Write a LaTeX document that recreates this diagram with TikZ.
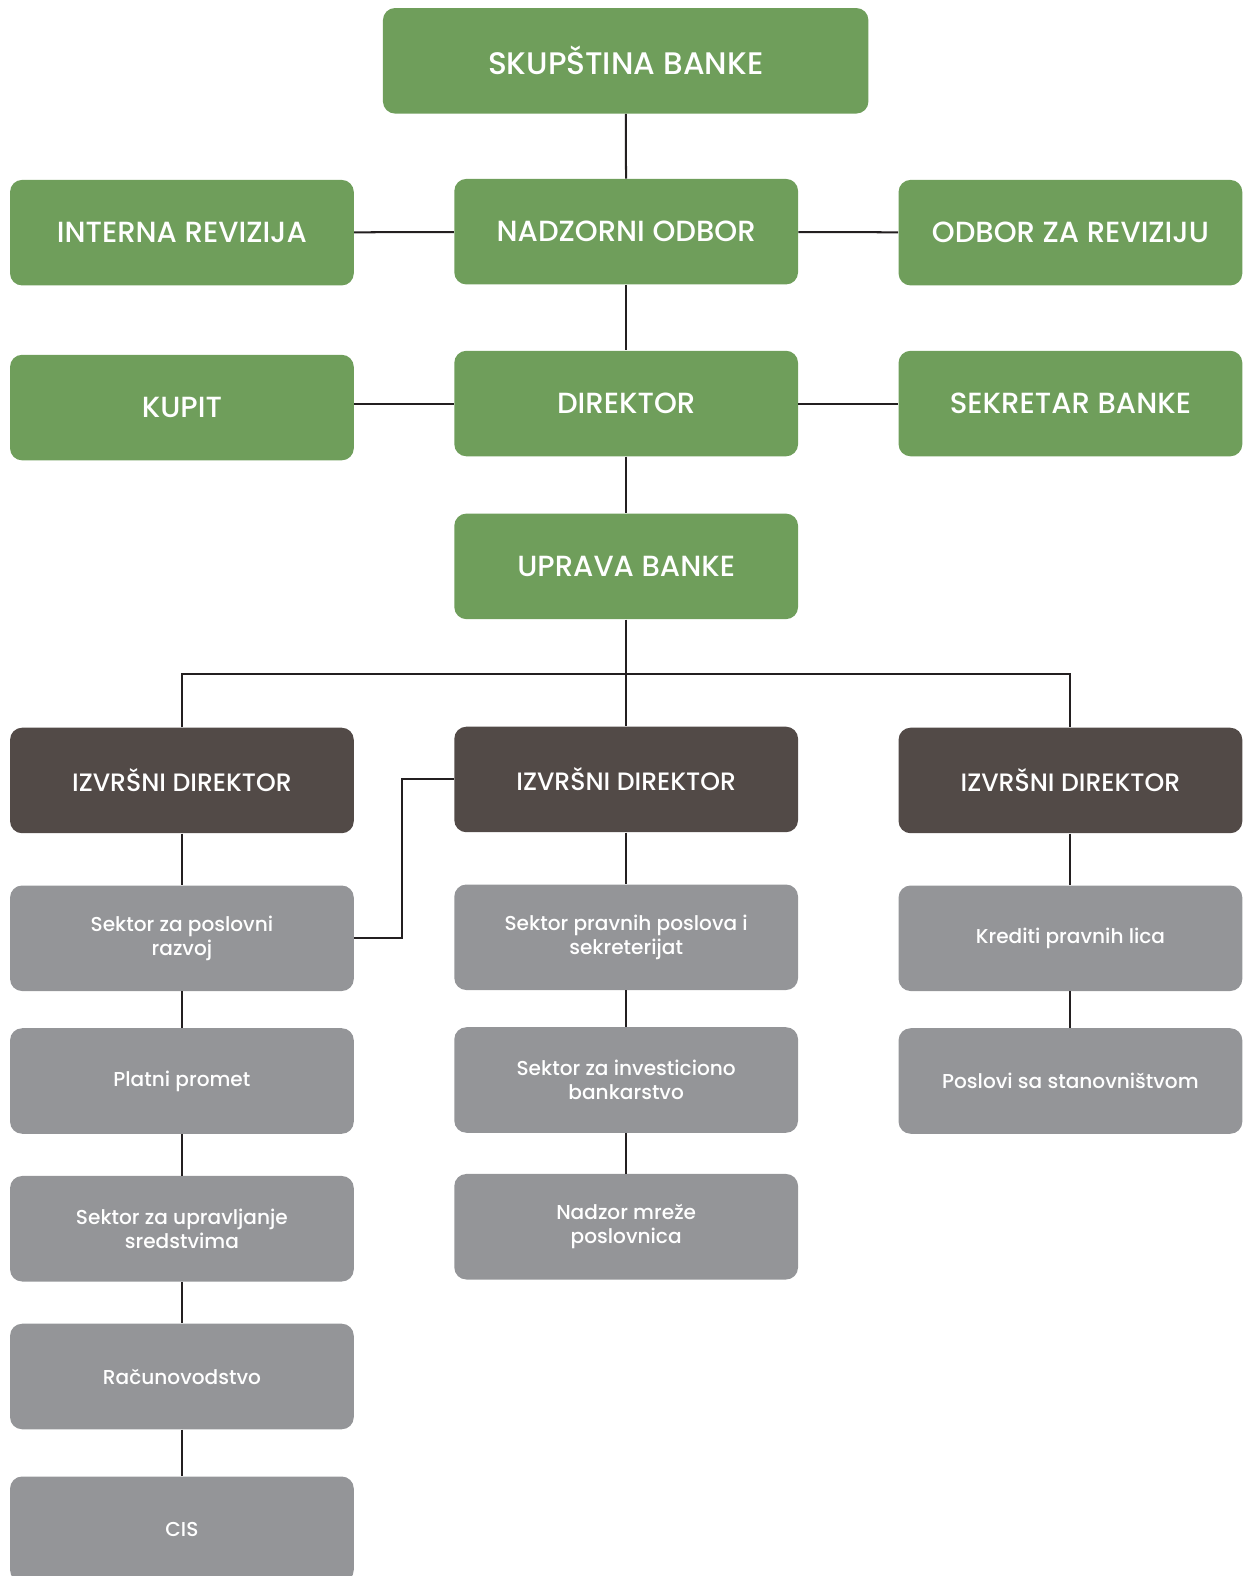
\documentclass[tikz,border=0pt]{standalone}
\usepackage{fontspec}
\setmainfont{Poppins}[UprightFont=* Medium]
\usepackage{tikz}

\definecolor{boxgreen}{RGB}{111,158,91}
\definecolor{boxdark}{RGB}{82,74,71}
\definecolor{boxgray}{RGB}{148,149,152}
\definecolor{linkblack}{RGB}{35,31,32}

\tikzset{
  unit/.style={rounded corners=6pt, minimum width=171pt, minimum height=52.5pt,
    text=white, align=center, inner sep=0pt},
  greenbox/.style={unit, fill=boxgreen, font=\fontsize{14.5}{16}\selectfont},
  darkbox/.style={unit, fill=boxdark, font=\fontsize{12.5}{14}\selectfont},
  graybox/.style={unit, fill=boxgray, font=\fontsize{10}{12}\selectfont},
  link/.style={draw=linkblack, line width=1pt}
}

\begin{document}
\begin{tikzpicture}[x=0.5pt, y=-0.5pt]
\useasboundingbox (0,0) rectangle (1239,1568);

%% top of the bank
\node[greenbox, minimum width=241.5pt, font=\fontsize{15.5}{17}\selectfont] (skup) at (622.5,60.5) {SKUPŠTINA BANKE};
\node[greenbox] (interna)  at (181,231.5)  {INTERNA REVIZIJA};
\node[greenbox] (nadzor)   at (623,230.5)  {NADZORNI ODBOR};
\node[greenbox] (odbor)    at (1065,231.5) {ODBOR ZA REVIZIJU};
\node[greenbox] (kupit)    at (181,405.5)  {KUPIT};
\node[greenbox] (direktor) at (623,401.5)  {DIREKTOR};
\node[greenbox] (sekretar) at (1065,401.5) {SEKRETAR BANKE};
\node[greenbox] (uprava)   at (623,563.5)  {UPRAVA BANKE};

%% executive directors
\node[darkbox] (izvA) at (181,776.5)  {IZVRŠNI DIREKTOR};
\node[darkbox] (izvB) at (623,775.5)  {IZVRŠNI DIREKTOR};
\node[darkbox] (izvC) at (1065,776.5) {IZVRŠNI DIREKTOR};

%% sectors, left
\node[graybox] (poslovni)    at (181,933.5)  {Sektor za poslovni\\razvoj};
\node[graybox] (platni)      at (181,1075.5) {Platni promet};
\node[graybox] (upravljanje) at (181,1222.5) {Sektor za upravljanje\\sredstvima};
\node[graybox] (racun)       at (181,1369.5) {Računovodstvo};
\node[graybox] (cis)         at (181,1521.5) {CIS};

%% sectors, middle
\node[graybox] (pravni)  at (623,932.5)  {Sektor pravnih poslova i\\sekreterijat};
\node[graybox] (invest)  at (623,1074.5) {Sektor za investiciono\\bankarstvo};
\node[graybox] (mreza)   at (623,1220.5) {Nadzor mreže\\poslovnica};

%% sectors, right
\node[graybox] (krediti)      at (1065,933.5)  {Krediti pravnih lica};
\node[graybox] (stanovnistvo) at (1065,1075.5) {Poslovi sa stanovništvom};

\coordinate (bus) at (623,671);

%% lines
\draw[link] (skup) -- (nadzor);
\draw[link] (interna) -- (nadzor);
\draw[link] (nadzor) -- (odbor);
\draw[link] (nadzor) -- (direktor);
\draw[link] (direktor.west) -- (direktor.west -| kupit.east);
\draw[link] (direktor) -- (sekretar);
\draw[link] (direktor) -- (uprava);
\draw[link] (uprava) -- (izvB);
\draw[link] (izvA.north) |- (bus) -| (izvC.north);
\draw[link] (izvA) -- (poslovni);
\draw[link] (poslovni) -- (platni);
\draw[link] (platni) -- (upravljanje);
\draw[link] (upravljanje) -- (racun);
\draw[link] (racun) -- (cis);
\draw[link] (poslovni.east) -- ++(48,0) |- (izvB.west);
\draw[link] (izvB) -- (pravni);
\draw[link] (pravni) -- (invest);
\draw[link] (invest) -- (mreza);
\draw[link] (izvC) -- (krediti);
\draw[link] (krediti) -- (stanovnistvo);
\end{tikzpicture}
\end{document}
